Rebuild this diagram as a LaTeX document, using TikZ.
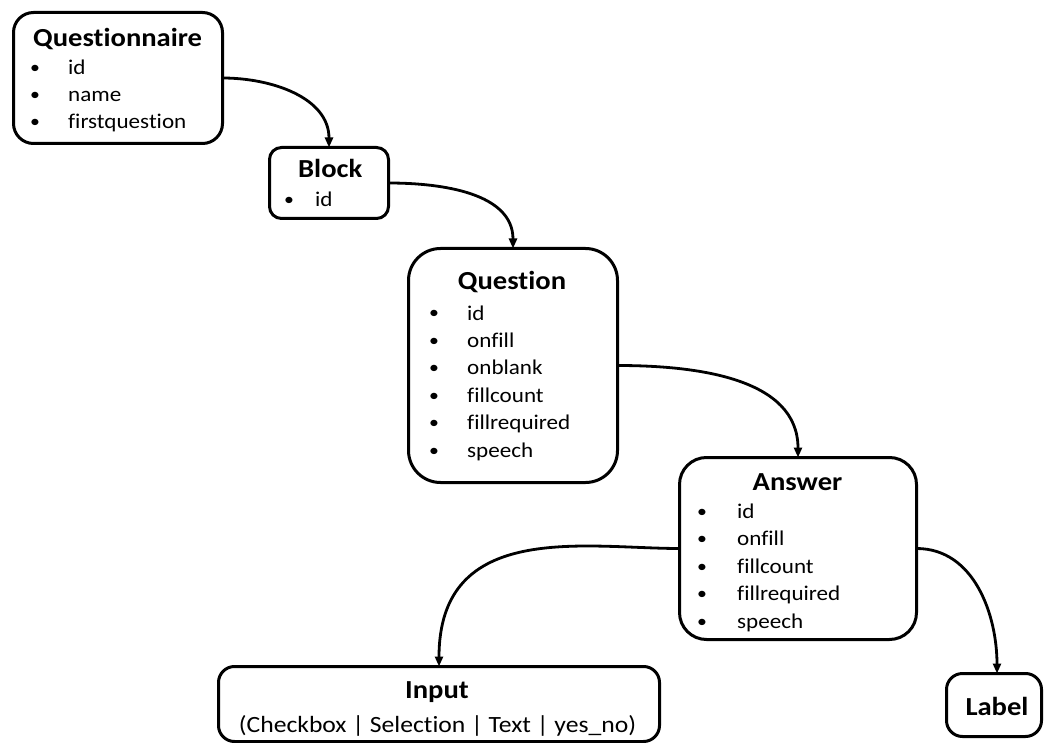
\documentclass[tikz,border=0pt]{standalone}
\usepackage{fontspec}
\setmainfont[FakeStretch=1.1, Ligatures=NoCommon]{Carlito}
\usetikzlibrary{arrows.meta}
\begin{document}
\begin{tikzpicture}[x=1pt,y=-1pt,
  box/.style={draw=black, line width=3pt, inner sep=0pt, outer sep=0pt, fill=white},
  title/.style={font=\fontsize{26}{30}\selectfont\bfseries, inner sep=0pt},
  item/.style={font=\fontsize{21}{24}\selectfont, inner sep=0pt, anchor=base west},
  dot/.style={font=\fontsize{18}{20}\selectfont, inner sep=0pt, anchor=base},
  link/.style={line width=2.8pt, -{Triangle[length=10pt,width=8pt]}}
]
\useasboundingbox (0,0) rectangle (1044,743);

% entity boxes
\node[box, rounded corners=20pt, minimum width=209pt, minimum height=131pt] (qn) at (118,78) {};
\node[box, rounded corners=12pt, minimum width=119pt, minimum height=71pt] (bl) at (329,183) {};
\node[box, rounded corners=32pt, minimum width=209pt, minimum height=234pt] (qu) at (513,365.5) {};
\node[box, rounded corners=27pt, minimum width=237pt, minimum height=182pt] (an) at (798,548.5) {};
\node[box, rounded corners=16pt, minimum width=441pt, minimum height=75pt] (in) at (439,704) {};
\node[box, rounded corners=16pt, minimum width=95pt, minimum height=63pt] (lb) at (994,705) {};

% Questionnaire
\node[title, anchor=base west] (qn-t) at (33,47) {Questionnaire};
\foreach \t [count=\i from 0] in {id,name,firstquestion} {
  \node[dot] (qn-b\i) at (35,{74+27*\i}) {•};
  \node[item] (qn-i\i) at (68,{75+27*\i}) {\t};
}

% Block
\node[title, anchor=base west] (bl-t) at (298,178) {Block};
\node[dot] (bl-b0) at (289,206) {•};
\node[item] (bl-i0) at (315,207) {id};

% Question
\node[title, anchor=base] (qu-t) at (512,290) {Question};
\foreach \t [count=\i from 0] in {id,onfill,onblank,fillcount,fillrequired,speech} {
  \node[dot] (qu-b\i) at (434,{319+27.4*\i}) {•};
  \node[item] (qu-i\i) at (467,{320+27.4*\i}) {\t};
}

% Answer
\node[title, anchor=base] (an-t) at (797.5,490) {Answer};
\foreach \t [count=\i from 0] in {id,onfill,fillcount,fillrequired,speech} {
  \node[dot] (an-b\i) at (702,{517+27.5*\i}) {•};
  \node[item] (an-i\i) at (737,{518+27.5*\i}) {\t};
}

% Input
\node[title, anchor=base] (in-t) at (437,698) {Input};
\node[font=\fontsize{23.3}{26}\selectfont, inner sep=0pt, anchor=base] (in-s) at (437.5,732)
  {(Checkbox | Selection | Text | yes\_no)};

% Label
\node[title, anchor=base] (lb-t) at (997,715) {Label};

% relations
\draw[link] (qn.east) to[out=0,in=90] (bl.north);
\draw[link] (bl.east) to[out=0,in=90] (qu.north);
\draw[link] (qu.east) to[out=0,in=90] (an.north);
\draw[link] (an.west) to[out=180,in=90,out looseness=0.9,in looseness=1.4] (in.north);
\draw[link] (an.east) to[out=0,in=90] ([xshift=3pt]lb.north);
\end{tikzpicture}
\end{document}
